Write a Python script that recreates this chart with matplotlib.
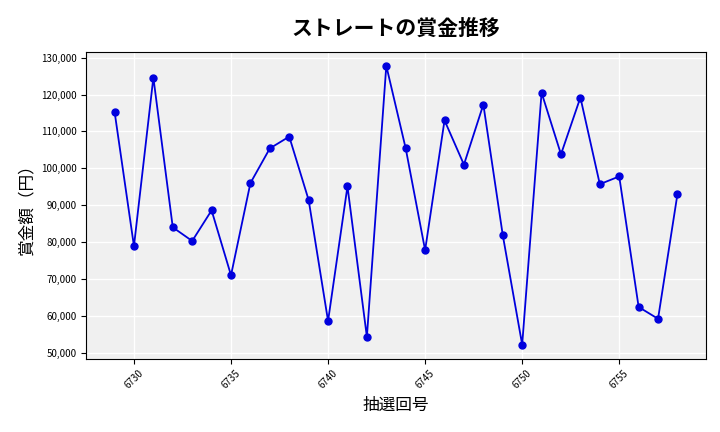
import matplotlib
matplotlib.use("Agg")
import matplotlib.pyplot as plt
from matplotlib.ticker import FuncFormatter

plt.rcParams['font.family'] = ['Noto Sans CJK JP', 'DejaVu Sans']

draws = list(range(6729, 6759))
prizes = [115400, 78900, 124600, 84000, 80300, 88600, 71000, 96000, 105400, 108600,
          91400, 58600, 95100, 54300, 127800, 105400, 77800, 113000, 101000, 117300,
          81900, 52200, 120500, 103800, 119200, 95700, 97800, 62400, 59200, 93000]

fig, ax = plt.subplots(figsize=(7.2, 4.32), dpi=100)
ax.set_facecolor('#f0f0f0')
ax.grid(True, color='white', linewidth=1)
ax.set_axisbelow(True)
ax.plot(draws, prizes, color='#0000dd', marker='o', markersize=5, linewidth=1.3)
ax.set_title('ストレートの賞金推移', fontsize=15, fontweight='bold', pad=12)
ax.set_xlabel('抽選回号', fontsize=12)
ax.set_ylabel('賞金額（円）', fontsize=12)
ax.set_xticks(range(6730, 6759, 5))
ax.set_yticks(range(50000, 130001, 10000))
ax.yaxis.set_major_formatter(FuncFormatter(lambda v, p: f'{int(v):,}'))
ax.tick_params(axis='x', labelrotation=45, labelsize=7)
ax.tick_params(axis='y', labelsize=7)
fig.subplots_adjust(left=0.12, right=0.98, top=0.88, bottom=0.17)
fig.savefig('out.png')
